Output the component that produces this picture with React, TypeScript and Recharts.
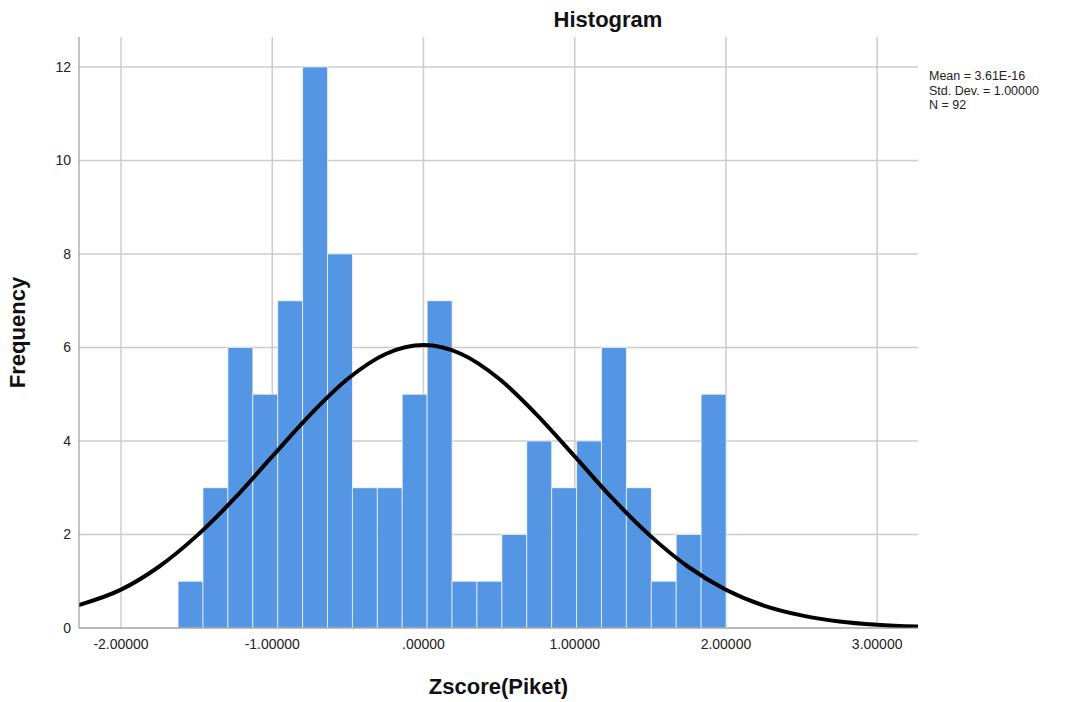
import React from 'react';
import {
  Bar,
  CartesianGrid,
  ComposedChart,
  Label,
  Line,
  XAxis,
  YAxis,
} from 'recharts';

// Histogram of Zscore(Piket): 22 equal-width bins
const binStart = -1.623;
const binWidth = 0.1647;
const counts = [1, 3, 6, 5, 7, 12, 8, 3, 3, 5, 7, 1, 1, 2, 4, 3, 4, 6, 3, 1, 2, 5];

// fitted normal curve, scaled to frequency
const curveX = [
  -2.28, -2.0, -1.75, -1.5, -1.25, -1.0, -0.75, -0.5, -0.25, 0, 0.25, 0.5, 0.75,
  1.0, 1.25, 1.5, 1.75, 2.0, 2.25, 2.5, 2.75, 3.0, 3.27,
];
const curveY = [
  0.49, 0.82, 1.31, 1.97, 2.77, 3.67, 4.56, 5.33, 5.86, 6.05, 5.86, 5.33, 4.56,
  3.67, 2.77, 1.97, 1.31, 0.82, 0.48, 0.27, 0.14, 0.07, 0.03,
];

const xTicks = [-2, -1, 0, 1, 2, 3];
const yTicks = [0, 2, 4, 6, 8, 10, 12];
const statLines = ['Mean = 3.61E-16', 'Std. Dev. = 1.00000', 'N = 92'];

const bins = counts.map((count, i) => ({
  x: binStart + (i + 0.5) * binWidth,
  count,
}));
const curve = curveX.map((x, i) => ({ x, y: curveY[i] }));

const X_DOMAIN: [number, number] = [-2.278, 3.27];
const FONT = '"Liberation Sans", Arial, sans-serif';

const fmtTick = (v: number) => v.toFixed(5).replace(/^(-?)0\./, '$1.');

export default function App() {
  return (
    <div style={{ position: 'absolute', left: 0, top: 0, width: 1072, height: 702, background: '#fff' }}>
      <ComposedChart
        width={1072}
        height={702}
        data={bins}
        margin={{ top: 37, right: 154, bottom: 0, left: 0 }}
        barCategoryGap={0}
        barGap={0}
      >
        <CartesianGrid xAxisId="main" stroke="#cccccc" strokeWidth={1.5} syncWithTicks />
        <XAxis
          xAxisId="bins"
          dataKey="x"
          type="number"
          domain={X_DOMAIN}
          allowDataOverflow
          height={0}
          hide
        />
        <XAxis
          xAxisId="main"
          dataKey="x"
          type="number"
          domain={X_DOMAIN}
          allowDataOverflow
          ticks={xTicks}
          interval={0}
          tickFormatter={fmtTick}
          tickSize={0}
          tickMargin={11}
          height={74}
          stroke="#999999"
          tick={{ fill: '#222', fontSize: 14, fontFamily: FONT }}
        >
          <Label
            value="Zscore(Piket)"
            position="insideBottom"
            offset={8}
            style={{ fontSize: 22, fontWeight: 'bold', fill: '#111', fontFamily: FONT }}
          />
        </XAxis>
        <YAxis
          type="number"
          domain={[0, 12.64]}
          ticks={yTicks}
          interval={0}
          allowDataOverflow
          width={79}
          tickSize={0}
          tickMargin={8}
          stroke="#888888"
          tick={{ fill: '#222', fontSize: 14, fontFamily: FONT }}
        >
          <Label
            content={({ viewBox }: any) => {
              const cx = 25;
              const cy = viewBox.y + viewBox.height / 2;
              return (
                <text
                  x={cx}
                  y={cy}
                  transform={`rotate(-90, ${cx}, ${cy})`}
                  textAnchor="middle"
                  fontSize={22}
                  fontWeight="bold"
                  fontFamily={FONT}
                  fill="#111"
                >
                  Frequency
                </text>
              );
            }}
          />
        </YAxis>
        <Bar
          xAxisId="bins"
          dataKey="count"
          fill="#5596e4"
          stroke="#ffffff"
          strokeOpacity={0.7}
          strokeWidth={1}
          isAnimationActive={false}
        />
        <Line
          xAxisId="main"
          data={curve}
          dataKey="y"
          type="monotone"
          stroke="#000"
          strokeWidth={4}
          dot={false}
          activeDot={false}
          isAnimationActive={false}
        />
      </ComposedChart>
      <svg
        width={1072}
        height={702}
        style={{ position: 'absolute', left: 0, top: 0, pointerEvents: 'none' }}
      >
        <text
          x={608}
          y={27}
          textAnchor="middle"
          fontSize={22}
          fontWeight="bold"
          fontFamily={FONT}
          fill="#111"
        >
          Histogram
        </text>
        {statLines.map((s, i) => (
          <text key={s} x={929} y={80 + i * 14.5} fontSize={12.5} fontFamily={FONT} fill="#222">
            {s}
          </text>
        ))}
      </svg>
    </div>
  );
}
